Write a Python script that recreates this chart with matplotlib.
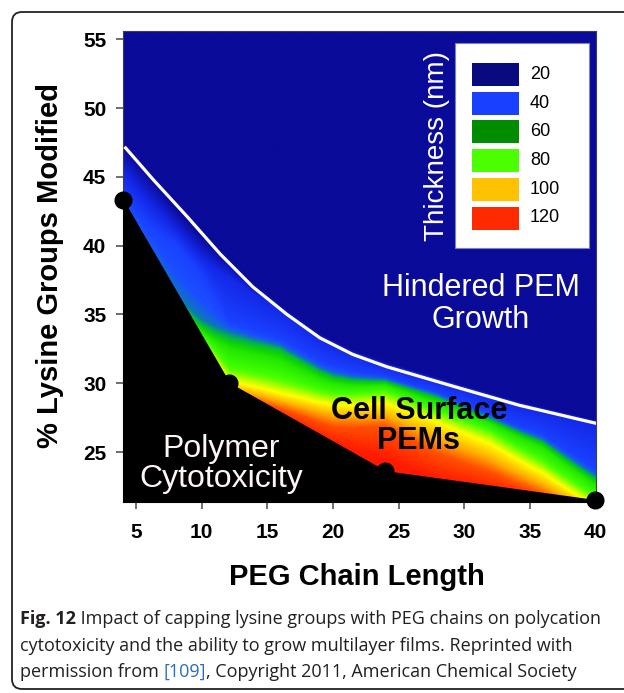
import numpy as np
import matplotlib
matplotlib.use("Agg")
import matplotlib.pyplot as plt
from matplotlib.colors import LinearSegmentedColormap
from matplotlib.patches import FancyBboxPatch, Rectangle

plt.rcParams['font.family'] = ['Liberation Sans', 'DejaVu Sans']

# 数据：黑色边界（带圆点）与白线
edge_x = [4.0, 12.1, 24.0, 40.0]
edge_y = [43.3, 30.0, 23.6, 21.5]

white_x = [4.2, 6.3, 8.9, 11.4, 13.9, 16.5, 19.0, 21.5, 24.1, 29.1, 34.2, 40.0]
white_y = [47.1, 44.8, 42.1, 39.4, 37.0, 35.0, 33.3, 32.1, 31.2, 29.8, 28.4, 27.1]

# 厚度等值线位置：每列 (PEG 长度) 中，各厚度值所在的相对高度
# 0 = 黑色边界, 1 = 白线；负值表示该厚度在边界以下（不可见）
grid_x = [4, 6, 8, 10, 12, 16, 20, 24, 28, 32, 36, 40]
iso_levels = [120, 110, 100, 90, 80, 70, 60, 50, 40, 30, 20]
iso_s = [
    [-0.80, -0.64, -0.54, -0.25, -0.15, -0.05, -0.02, 0.10, -0.02, -0.05, -0.10, -0.35],
    [-0.70, -0.56, -0.47, -0.19, -0.10, 0.03, 0.15, 0.43, 0.25, 0.15, -0.02, -0.25],
    [-0.60, -0.48, -0.40, -0.13, -0.05, 0.10, 0.27, 0.53, 0.42, 0.30, 0.10, -0.16],
    [-0.50, -0.40, -0.33, -0.07, 0.01, 0.18, 0.38, 0.65, 0.58, 0.47, 0.24, -0.08],
    [-0.40, -0.32, -0.26, -0.01, 0.10, 0.30, 0.48, 0.75, 0.68, 0.60, 0.37, 0.03],
    [-0.30, -0.24, -0.19, 0.04, 0.28, 0.50, 0.60, 0.82, 0.78, 0.70, 0.55, 0.20],
    [-0.20, -0.16, -0.12, 0.10, 0.36, 0.60, 0.66, 0.85, 0.83, 0.74, 0.61, 0.27],
    [-0.10, -0.08, -0.05, 0.16, 0.42, 0.64, 0.70, 0.875, 0.86, 0.77, 0.65, 0.32],
    [0.10, 0.30, 0.55, 0.60, 0.52, 0.72, 0.78, 0.91, 0.89, 0.81, 0.72, 0.42],
    [0.50, 0.60, 0.70, 0.75, 0.88, 1.00, 1.01, 1.015, 1.015, 1.015, 1.015, 1.015],
    [1.00, 1.00, 0.95, 0.97, 1.02, 1.04, 1.04, 1.04, 1.04, 1.04, 1.04, 1.04],
]

legend_values = [20, 40, 60, 80, 100, 120]
legend_colors = ['#0a0a80', '#1a40ff', '#008c00', '#4cff00', '#ffc200', '#ff2a00']

x_ticks = [5, 10, 15, 20, 25, 30, 35, 40]
y_ticks = [25, 30, 35, 40, 45, 50, 55]

navy = '#0b0b9a'
cmap = LinearSegmentedColormap.from_list('thick', [
    (0.00, navy), (0.10, '#1428e8'), (0.20, '#1a40ff'), (0.26, '#1a50ff'),
    (0.34, '#00a070'), (0.45, '#10d800'), (0.58, '#40ff00'), (0.70, '#ffff00'),
    (0.80, '#ffb000'), (0.90, '#ff5000'), (1.00, '#ff1a00')])

W, H = 624, 693
fig = plt.figure(figsize=(W / 100, H / 100), dpi=100)


def px(x, y):
    return x / W, 1 - y / H


ax = fig.add_axes([123 / W, 1 - 502 / H, (596 - 123) / W, (502 - 31) / H])
ax.set_facecolor(navy)
xlim = (4.0, 40.05)
ylim = (21.37, 55.6)
ax.set_xlim(*xlim)
ax.set_ylim(*ylim)

# 由等值线位置重建厚度场
iso = np.array(iso_s)
lev = np.array(iso_levels, dtype=float)
xs = np.linspace(*xlim, 500)
ys = np.linspace(*ylim, 500)
field = np.zeros((len(ys), len(xs)))
for j, xv in enumerate(xs):
    b = np.interp(xv, edge_x, edge_y)
    w = np.interp(xv, white_x, white_y)
    s = (ys - b) / (w - b)
    col_s = np.array([np.interp(xv, grid_x, row) for row in iso])
    field[:, j] = np.interp(s, col_s, lev)
ax.imshow(field, extent=(*xlim, *ylim), origin='lower', aspect='auto', cmap=cmap,
          vmin=20, vmax=120, interpolation='bilinear', zorder=1)

ax.fill_between(edge_x, edge_y, 20, color='black', zorder=3)
ax.plot(white_x, white_y, color='white', lw=2.3, zorder=4)
ax.plot(edge_x, edge_y, 'o', color='black', ms=12, zorder=5, clip_on=False)

ax.set_xticks(x_ticks)
ax.set_yticks(y_ticks)
ax.tick_params(axis='both', direction='out', length=5, width=1.2, color='#555555',
               labelsize=15)
ax.tick_params(axis='x', pad=10)
ax.tick_params(axis='y', pad=7)
for lab in ax.get_xticklabels() + ax.get_yticklabels():
    lab.set_fontweight('bold')
for sp in ax.spines.values():
    sp.set_color('#404040')
    sp.set_linewidth(0.8)

# 区域文字
fig.text(*px(481, 304), 'Hindered PEM\nGrowth', color='white', fontsize=22,
         ha='center', va='center', linespacing=1.05, zorder=10)
fig.text(*px(419, 426), 'Cell Surface\nPEMs', color='black', fontsize=22,
         fontweight='bold', ha='center', va='center', linespacing=1.0, zorder=10)
fig.text(*px(221, 464), 'Polymer\nCytotoxicity', color='#fff4f4', fontsize=23,
         ha='center', va='center', linespacing=1.0, zorder=10)

# 图例
fig.patches.append(Rectangle(px(455, 248), (589 - 455) / W, (248 - 43) / H,
                             transform=fig.transFigure, facecolor='white',
                             edgecolor='#8080c0', lw=0.8, zorder=8))
fig.text(*px(437, 146), 'Thickness (nm)', color='white', fontsize=20, rotation=90,
         ha='center', va='center', zorder=10)
for i, (v, c) in enumerate(zip(legend_values, legend_colors)):
    top = 63 + i * 28.7
    fig.patches.append(Rectangle(px(472, top + 23), 47 / W, 23 / H,
                                 transform=fig.transFigure, facecolor=c,
                                 edgecolor='none', zorder=9))
    fig.text(*px(530, top + 11.5), str(v), color='black', fontsize=13,
             ha='left', va='center', zorder=10)

# 坐标轴标题
fig.text(*px(50, 266), '% Lysine Groups Modified', fontsize=21, fontweight='bold',
         rotation=90, ha='center', va='center')
fig.text(*px(357, 577), 'PEG Chain Length', fontsize=21, fontweight='bold',
         ha='center', va='center')

# 外框
fig.patches.append(FancyBboxPatch((12, 4), 700, 677, boxstyle='round,pad=0,rounding_size=10',
                                  transform=None, facecolor='none', edgecolor='#222222',
                                  lw=1.3))

# 图注
renderer = fig.canvas.get_renderer()
cap_font = ['Open Sans', 'DejaVu Sans']
cap_size = 13
lines = [
    [('Fig. 12', 'bold', '#231f20'),
     (' Impact of capping lysine groups with PEG chains on polycation', 'normal', '#231f20')],
    [('cytotoxicity and the ability to grow multilayer films. Reprinted with', 'normal', '#231f20')],
    [('permission from ', 'normal', '#231f20'), ('[109]', 'normal', '#2a6ebb'),
     (', Copyright 2011, American Chemical Society', 'normal', '#231f20')],
]
for row, y in zip(lines, [619, 646, 672]):
    x = 20
    for txt, wt, col in row:
        t = fig.text(*px(x, y), txt, fontsize=cap_size, fontweight=wt, color=col,
                     family=cap_font, ha='left', va='center')
        bb = t.get_window_extent(renderer)
        x += bb.width

fig.savefig('out.png', dpi=100)
